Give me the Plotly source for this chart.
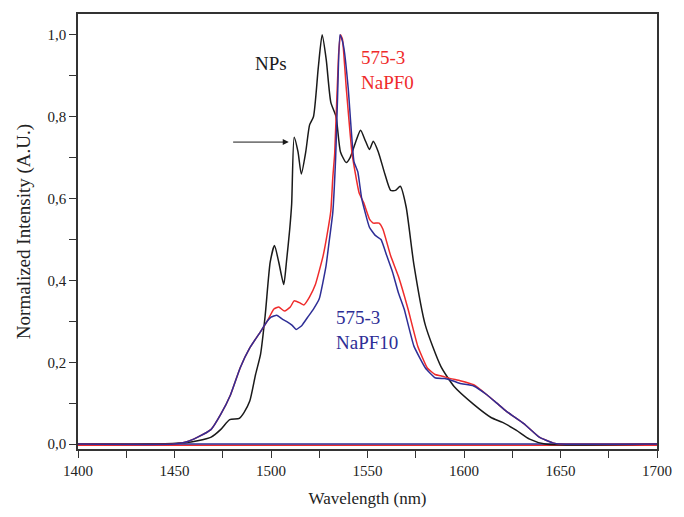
import plotly.graph_objects as go

# NPs (black)
nps_wl = [1400, 1440, 1455, 1462, 1469, 1474, 1478.6, 1483.6, 1486, 1489, 1492, 1494.6, 1497,
          1499.6, 1501.8, 1504, 1506.6, 1508, 1509.7, 1510.7, 1512, 1514, 1515.7, 1518, 1520,
          1522, 1524.5, 1526.5, 1528.6, 1531, 1533.7, 1536, 1539, 1541, 1544, 1546.4, 1549,
          1551, 1553, 1555.6, 1559, 1562, 1564.5, 1567, 1570, 1574, 1580, 1588, 1595, 1605,
          1614, 1620, 1627, 1634, 1642, 1700]
nps_int = [0.0, 0.0, 0.003, 0.008, 0.017, 0.036, 0.06, 0.063, 0.077, 0.105, 0.17, 0.22, 0.315,
           0.445, 0.485, 0.445, 0.39, 0.445, 0.525, 0.586, 0.75, 0.714, 0.66, 0.714, 0.78,
           0.80, 0.92, 1.0, 0.94, 0.835, 0.80, 0.714, 0.688, 0.70, 0.74, 0.767, 0.74,
           0.72, 0.74, 0.714, 0.66, 0.62, 0.62, 0.63, 0.58, 0.44, 0.29, 0.19, 0.14, 0.097,
           0.065, 0.053, 0.034, 0.012, 0.0, 0.0]

# 575-3 NaPF0 (red)
napf0_wl = [1400, 1450, 1456, 1462, 1469, 1474, 1479, 1484, 1489, 1494.6, 1498, 1501.5, 1504,
            1507, 1510, 1512, 1515, 1517, 1520, 1523, 1527, 1529, 1531, 1532, 1533, 1535, 1536,
            1537, 1539, 1542, 1545.6, 1548, 1551, 1553, 1556, 1558, 1562, 1566, 1571, 1576,
            1581, 1585, 1588, 1593, 1598, 1605, 1612, 1617, 1622, 1631, 1639, 1646, 1650, 1700]
napf0_int = [0.0, 0.0, 0.005, 0.017, 0.036, 0.073, 0.12, 0.186, 0.235, 0.275, 0.30, 0.33, 0.335,
             0.325, 0.335, 0.35, 0.345, 0.34, 0.36, 0.39, 0.46, 0.51, 0.57, 0.65, 0.71, 0.95, 1.0,
             0.99, 0.87, 0.71, 0.615, 0.59, 0.55, 0.54, 0.54, 0.525, 0.46, 0.41, 0.33, 0.24,
             0.186, 0.17, 0.167, 0.16, 0.155, 0.145, 0.12, 0.10, 0.08, 0.05, 0.017, 0.003, 0.0, 0.0]

# 575-3 NaPF10 (blue)
napf10_wl = [1400, 1450, 1456, 1462, 1469, 1474, 1479, 1484, 1489, 1494.6, 1498, 1500, 1503,
             1506, 1508, 1511, 1513, 1516, 1519, 1522, 1525, 1528.5, 1530, 1532, 1533.5, 1534.5,
             1535.7, 1537, 1538, 1540, 1543, 1545, 1547, 1551, 1554, 1557, 1560, 1563, 1566,
             1569, 1574, 1580, 1585, 1590, 1594, 1598, 1605, 1612, 1617, 1622, 1631, 1639,
             1646, 1650, 1700]
napf10_int = [0.0, 0.0, 0.005, 0.017, 0.036, 0.073, 0.12, 0.186, 0.235, 0.275, 0.30, 0.31, 0.315,
              0.305, 0.30, 0.29, 0.28, 0.29, 0.31, 0.33, 0.355, 0.435, 0.49, 0.565, 0.70, 0.85,
              1.0, 0.985, 0.96, 0.87, 0.69, 0.665, 0.60, 0.53, 0.51, 0.50, 0.46, 0.42, 0.37,
              0.33, 0.24, 0.186, 0.162, 0.16, 0.155, 0.148, 0.142, 0.12, 0.10, 0.08, 0.05, 0.017,
              0.003, 0.0, 0.0]

# baselines
baseline_wl = [1400, 1700]
baseline_red = [-0.003, -0.003]
baseline_blue = [0.0, 0.0]

x_ticks = [1400, 1450, 1500, 1550, 1600, 1650, 1700]
y_ticks = [0.0, 0.2, 0.4, 0.6, 0.8, 1.0]

BLACK = "#1a1a1a"
RED = "#ef2b2b"
BLUE = "#2e2e96"
FONT = "Liberation Serif"

fig = go.Figure()
fig.add_trace(go.Scatter(x=baseline_wl, y=baseline_red, mode="lines",
                         line=dict(color=RED, width=1.5), showlegend=False))
fig.add_trace(go.Scatter(x=baseline_wl, y=baseline_blue, mode="lines",
                         line=dict(color=BLUE, width=1.5), showlegend=False))
fig.add_trace(go.Scatter(x=nps_wl, y=nps_int, mode="lines",
                         line=dict(color=BLACK, width=1.5, shape="spline", smoothing=0.6),
                         showlegend=False))
fig.add_trace(go.Scatter(x=napf0_wl, y=napf0_int, mode="lines",
                         line=dict(color=RED, width=1.5, shape="spline", smoothing=0.4),
                         showlegend=False))
fig.add_trace(go.Scatter(x=napf10_wl, y=napf10_int, mode="lines",
                         line=dict(color=BLUE, width=1.5, shape="spline", smoothing=0.4),
                         showlegend=False))

fig.add_annotation(x=1500, y=0.93, xref="x", yref="y", text="NPs", showarrow=False,
                   font=dict(family=FONT, size=19, color=BLACK))
fig.add_annotation(x=1545.4, y=0.913, xref="x", yref="y", text="575-3<br>NaPF0",
                   showarrow=False, xanchor="left", align="left",
                   font=dict(family=FONT, size=19, color=RED))
fig.add_annotation(x=1532.7, y=0.28, xref="x", yref="y", text="575-3<br>NaPF10",
                   showarrow=False, xanchor="left", align="left",
                   font=dict(family=FONT, size=19, color=BLUE))
fig.add_annotation(x=1509.2, y=0.738, ax=1479.6, ay=0.738, xref="x", yref="y",
                   axref="x", ayref="y", text="", showarrow=True, arrowhead=2,
                   arrowsize=1.2, arrowwidth=1, arrowcolor=BLACK)

axis_common = dict(showline=True, linecolor="#333333", linewidth=1.5, mirror=True,
                   ticks="outside", ticklen=7, tickwidth=1.3, tickcolor="#333333",
                   showgrid=False, zeroline=False,
                   tickfont=dict(family=FONT, size=15, color="#222222"))

fig.update_xaxes(range=[1400, 1700], tickvals=x_ticks,
                 minor=dict(dtick=25, ticks="outside", ticklen=7, tickwidth=1.3,
                            tickcolor="#333333", showgrid=False),
                 title=dict(text="Wavelength (nm)", font=dict(family=FONT, size=17, color="#222222"),
                            standoff=14),
                 **axis_common)
fig.update_yaxes(range=[-0.012, 1.051], tickvals=y_ticks, tickformat=".1f",
                 minor=dict(dtick=0.1, ticks="outside", ticklen=7, tickwidth=1.3,
                            tickcolor="#333333", showgrid=False),
                 title=dict(text="Normalized Intensity (A.U.)",
                            font=dict(family=FONT, size=19, color="#222222"), standoff=12),
                 **axis_common)

fig.update_layout(width=684, height=517, margin=dict(l=78, r=17, t=13, b=65),
                  plot_bgcolor="white", paper_bgcolor="white", separators=",.",
                  showlegend=False)

fig.write_html("out.html")
